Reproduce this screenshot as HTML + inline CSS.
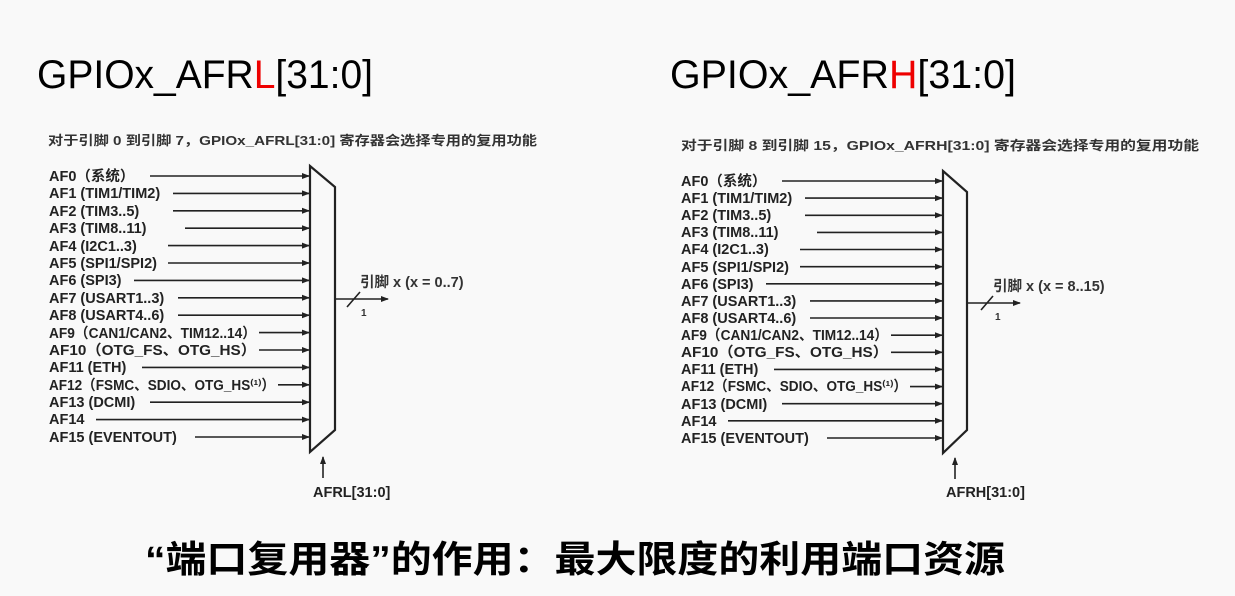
<!DOCTYPE html>
<html><head><meta charset="utf-8"><style>
html,body{margin:0;padding:0;background:#f9f9f9;}
svg{display:block}
.l{font-family:"Liberation Sans","Noto Sans CJK SC",sans-serif;font-size:14.5px;font-weight:bold;fill:#222;}
.c{font-family:"Liberation Sans","Noto Sans CJK SC",sans-serif;font-size:13px;font-weight:bold;fill:#333;}
.o{font-family:"Liberation Sans","Noto Sans CJK SC",sans-serif;font-size:14.5px;font-weight:bold;fill:#333;}
.t{font-family:"Liberation Sans",sans-serif;font-size:40px;fill:#000;}
.b{font-family:"Liberation Sans","Noto Sans CJK SC",sans-serif;font-size:37px;font-weight:bold;fill:#000;}
line{stroke:#222;stroke-width:1.6}
</style></head><body>
<svg width="1235" height="596" viewBox="0 0 1235 596" xmlns="http://www.w3.org/2000/svg">
<defs><marker id="a" markerWidth="8" markerHeight="8" refX="7" refY="4" orient="auto" markerUnits="userSpaceOnUse"><path d="M0,1 L8,4 L0,7 Z" fill="#222"/></marker></defs>
<text class="t" x="37" y="88" textLength="336" lengthAdjust="spacingAndGlyphs">GPIOx_AFR<tspan fill="#e00">L</tspan>[31:0]</text>
<text class="t" x="670" y="88" textLength="346" lengthAdjust="spacingAndGlyphs">GPIOx_AFR<tspan fill="#e00">H</tspan>[31:0]</text>

<!-- LEFT -->
<text class="c" x="48" y="145" textLength="489" lengthAdjust="spacingAndGlyphs">对于引脚 0 到引脚 7，GPIOx_AFRL[31:0] 寄存器会选择专用的复用功能</text>
<g>
<text class="l" x="49" y="181">AF0（系统）</text><line x1="150" y1="176" x2="309" y2="176" marker-end="url(#a)"/>
<text class="l" x="49" y="198">AF1 (TIM1/TIM2)</text><line x1="173" y1="193.4" x2="309" y2="193.4" marker-end="url(#a)"/>
<text class="l" x="49" y="216">AF2 (TIM3..5)</text><line x1="173" y1="210.8" x2="309" y2="210.8" marker-end="url(#a)"/>
<text class="l" x="49" y="233">AF3 (TIM8..11)</text><line x1="185" y1="228.2" x2="309" y2="228.2" marker-end="url(#a)"/>
<text class="l" x="49" y="251">AF4 (I2C1..3)</text><line x1="168" y1="245.6" x2="309" y2="245.6" marker-end="url(#a)"/>
<text class="l" x="49" y="268">AF5 (SPI1/SPI2)</text><line x1="168" y1="263" x2="309" y2="263" marker-end="url(#a)"/>
<text class="l" x="49" y="285">AF6 (SPI3)</text><line x1="134" y1="280.4" x2="309" y2="280.4" marker-end="url(#a)"/>
<text class="l" x="49" y="303">AF7 (USART1..3)</text><line x1="178" y1="297.8" x2="309" y2="297.8" marker-end="url(#a)"/>
<text class="l" x="49" y="320">AF8 (USART4..6)</text><line x1="178" y1="315.2" x2="309" y2="315.2" marker-end="url(#a)"/>
<text class="l" x="49" y="338" textLength="207" lengthAdjust="spacingAndGlyphs">AF9（CAN1/CAN2、TIM12..14）</text><line x1="259" y1="332.6" x2="309" y2="332.6" marker-end="url(#a)"/>
<text class="l" x="49" y="355" textLength="207" lengthAdjust="spacingAndGlyphs">AF10（OTG_FS、OTG_HS）</text><line x1="259" y1="350" x2="309" y2="350" marker-end="url(#a)"/>
<text class="l" x="49" y="372">AF11 (ETH)</text><line x1="142" y1="367.4" x2="309" y2="367.4" marker-end="url(#a)"/>
<text class="l" x="49" y="390" textLength="226" lengthAdjust="spacingAndGlyphs">AF12（FSMC、SDIO、OTG_HS⁽¹⁾）</text><line x1="278" y1="384.8" x2="309" y2="384.8" marker-end="url(#a)"/>
<text class="l" x="49" y="407">AF13 (DCMI)</text><line x1="150" y1="402.2" x2="309" y2="402.2" marker-end="url(#a)"/>
<text class="l" x="49" y="424">AF14</text><line x1="96" y1="419.6" x2="309" y2="419.6" marker-end="url(#a)"/>
<text class="l" x="49" y="442">AF15 (EVENTOUT)</text><line x1="195" y1="437" x2="309" y2="437" marker-end="url(#a)"/>
</g>
<path d="M310,166 L335,187 L335,430 L310,452 Z" fill="none" stroke="#222" stroke-width="2.2"/>
<line x1="335" y1="299" x2="388" y2="299" marker-end="url(#a)"/>
<line x1="347" y1="307" x2="360" y2="292"/>
<text class="o" x="360" y="287">引脚 x (x = 0..7)</text>
<text class="c" x="361" y="316" style="font-size:10px">1</text>
<line x1="323" y1="478" x2="323" y2="457" marker-end="url(#a)"/>
<text class="l" x="313" y="497">AFRL[31:0]</text>

<!-- RIGHT -->
<text class="c" x="681" y="150" textLength="518" lengthAdjust="spacingAndGlyphs">对于引脚 8 到引脚 15，GPIOx_AFRH[31:0] 寄存器会选择专用的复用功能</text>
<g>
<text class="l" x="681" y="186">AF0（系统）</text><line x1="782" y1="181" x2="942" y2="181" marker-end="url(#a)"/>
<text class="l" x="681" y="203">AF1 (TIM1/TIM2)</text><line x1="805" y1="198.1" x2="942" y2="198.1" marker-end="url(#a)"/>
<text class="l" x="681" y="220">AF2 (TIM3..5)</text><line x1="805" y1="215.3" x2="942" y2="215.3" marker-end="url(#a)"/>
<text class="l" x="681" y="237">AF3 (TIM8..11)</text><line x1="817" y1="232.4" x2="942" y2="232.4" marker-end="url(#a)"/>
<text class="l" x="681" y="254">AF4 (I2C1..3)</text><line x1="800" y1="249.5" x2="942" y2="249.5" marker-end="url(#a)"/>
<text class="l" x="681" y="272">AF5 (SPI1/SPI2)</text><line x1="800" y1="266.7" x2="942" y2="266.7" marker-end="url(#a)"/>
<text class="l" x="681" y="289">AF6 (SPI3)</text><line x1="766" y1="283.8" x2="942" y2="283.8" marker-end="url(#a)"/>
<text class="l" x="681" y="306">AF7 (USART1..3)</text><line x1="810" y1="300.9" x2="942" y2="300.9" marker-end="url(#a)"/>
<text class="l" x="681" y="323">AF8 (USART4..6)</text><line x1="810" y1="318" x2="942" y2="318" marker-end="url(#a)"/>
<text class="l" x="681" y="340" textLength="207" lengthAdjust="spacingAndGlyphs">AF9（CAN1/CAN2、TIM12..14）</text><line x1="891" y1="335.2" x2="942" y2="335.2" marker-end="url(#a)"/>
<text class="l" x="681" y="357" textLength="207" lengthAdjust="spacingAndGlyphs">AF10（OTG_FS、OTG_HS）</text><line x1="891" y1="352.3" x2="942" y2="352.3" marker-end="url(#a)"/>
<text class="l" x="681" y="374">AF11 (ETH)</text><line x1="774" y1="369.4" x2="942" y2="369.4" marker-end="url(#a)"/>
<text class="l" x="681" y="391" textLength="226" lengthAdjust="spacingAndGlyphs">AF12（FSMC、SDIO、OTG_HS⁽¹⁾）</text><line x1="910" y1="386.6" x2="942" y2="386.6" marker-end="url(#a)"/>
<text class="l" x="681" y="409">AF13 (DCMI)</text><line x1="782" y1="403.7" x2="942" y2="403.7" marker-end="url(#a)"/>
<text class="l" x="681" y="426">AF14</text><line x1="728" y1="420.8" x2="942" y2="420.8" marker-end="url(#a)"/>
<text class="l" x="681" y="443">AF15 (EVENTOUT)</text><line x1="827" y1="438" x2="942" y2="438" marker-end="url(#a)"/>
</g>
<path d="M943,171 L967,192 L967,430 L943,453 Z" fill="none" stroke="#222" stroke-width="2.2"/>
<line x1="967" y1="303" x2="1020" y2="303" marker-end="url(#a)"/>
<line x1="981" y1="310" x2="993" y2="296"/>
<text class="o" x="993" y="291">引脚 x (x = 8..15)</text>
<text class="c" x="995" y="320" style="font-size:10px">1</text>
<line x1="955" y1="479" x2="955" y2="458" marker-end="url(#a)"/>
<text class="l" x="946" y="497">AFRH[31:0]</text>

<text class="b" x="145" y="572" textLength="860" lengthAdjust="spacingAndGlyphs">“端口复用器”的作用：最大限度的利用端口资源</text>
</svg>
</body></html>
